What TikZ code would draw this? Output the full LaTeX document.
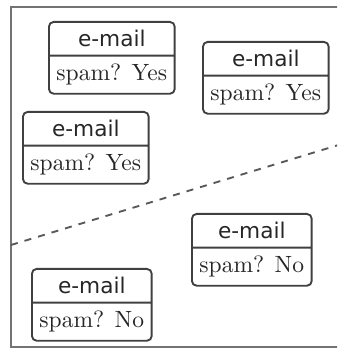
\documentclass[tikz,border=0pt]{standalone}
\usepackage{fontspec}
\newfontfamily\mailfont[Scale=0.92]{DejaVu Sans}
\usetikzlibrary{shapes.multipart}

\begin{document}
\begin{tikzpicture}[x=0.425pt, y=0.425pt]
    \tikzstyle{email} = [rectangle split, rectangle split parts=2, rounded corners=2pt, draw=black!75, thick, text=black!85, anchor=north west, inner sep=3.2pt]
    \tikzstyle{frame} = [draw=black!55, thick]
    \tikzstyle{separator} = [dashed, thick, draw=black!65]

    \useasboundingbox (0,0) rectangle (337,349);
    \clip (0,0) rectangle (337,349);
    \draw [frame] (11,2) rectangle (345,342);

    \node (spamA) [email] at (48,328) {\mailfont e-mail \nodepart{two} spam? Yes};
    \node (spamB) [email] at (202,308) {\mailfont e-mail \nodepart{two} spam? Yes};
    \node (spamC) [email] at (22,238) {\mailfont e-mail \nodepart{two} spam? Yes};
    \node (hamA) [email] at (191,136) {\mailfont e-mail \nodepart{two} spam? No};
    \node (hamB) [email] at (31,81) {\mailfont e-mail \nodepart{two} spam? No};

    \coordinate (sepL) at (11,104);
    \coordinate (sepR) at (345,206);
    \draw [separator] (sepL) -- (sepR);
\end{tikzpicture}
\end{document}
